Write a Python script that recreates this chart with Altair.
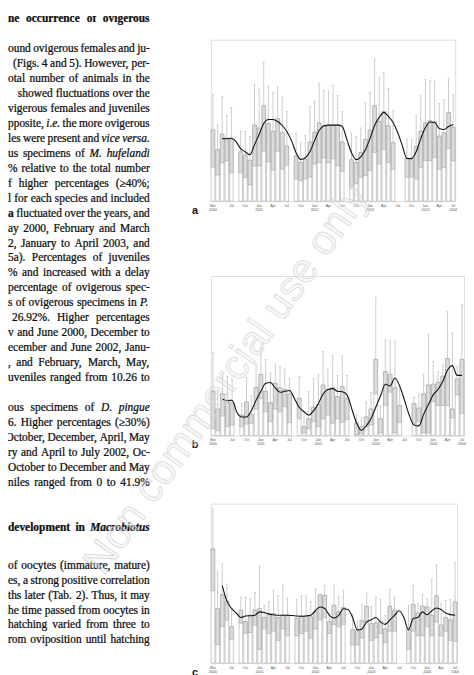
import altair as alt
import pandas as pd

# ---------------- categories ----------------
MONTH_NAMES = ["Jan", "Feb", "Mar", "Apr", "May", "Jun", "Jul", "Aug", "Sep", "Oct", "Nov", "Dec"]
MONTHS = []
for yr in range(2000, 2005):
    for mi, mn in enumerate(MONTH_NAMES):
        if (yr == 2000 and mi < 2) or (yr == 2004 and mi > 6):
            continue
        MONTHS.append(f"{mn} {yr}")
TICK_MONTHS = [MONTHS[0]] + MONTHS[4::3]

N = None
# ---------------- panel a ----------------
TOP_A = [3.53, 2.55, 3.32, 3.12, 3.09, N,
         2.44, 2.28, 2.03, 3.77, 3.62, 4.72, 3.84, 3.46, 4.08, 3.41, 2.73, N,
         2.24, 1.92, 2.08, 2.93, 3.41, 3.87, 3.74, 3.74, 3.77, 3.77, 2.93, N,
         2.05, 1.92, 2.41, 3.06, 3.51, 4.72, 3.95, 4.44, 3.74, 2.89, N, N,
         2.11, 2.11, 2.70, 3.46, 3.87, 3.98, 3.95, 3.22, 3.38, 4.39, 3.66]
LOW_A = [1.69, 1.30, 1.90, 2.00, 1.40, N,
         1.40, 1.17, 0.81, 1.74, 1.74, 2.47, 1.95, 1.54, 2.47, 1.59, 1.79, N,
         1.10, 1.02, 1.10, 1.19, 1.84, 1.92, 2.15, 1.90, 2.11, 1.76, 1.48, N,
         0.70, 0.86, 1.19, 1.27, 1.51, 2.41, 1.84, 2.57, 1.92, 1.59, N, N,
         1.19, 1.19, 1.10, 1.67, 2.00, 2.00, 2.16, 1.59, 1.67, 2.60, 2.00]
WHISK_A = [5.30, 3.77, 5.19, 4.26, 4.65, N,
           3.48, 3.45, 3.20, 5.79, 5.56, 6.89, 5.70, 5.40, 5.66, 5.17, 4.44, N,
           3.38, 2.89, 3.27, 4.68, 4.98, 5.85, 5.50, 5.46, 5.74, 5.25, 4.44, N,
           3.38, 3.22, 3.63, 4.88, 5.40, 7.04, 6.11, 6.37, 5.59, 4.50, N, N,
           3.06, 3.06, 4.23, 5.22, 6.03, 5.98, 5.95, 4.85, 5.04, 6.07, 5.27]
MA_A = [N, N, 3.10, 3.09, 3.12, 2.95,
        2.60, 2.45, 2.30, 2.80, 3.30, 3.85, 4.05, 4.05, 3.95, 3.75, 3.45, 3.00,
        2.40, 2.07, 2.15, 2.45, 3.00, 3.50, 3.72, 3.77, 3.77, 3.77, 3.70, 3.05,
        2.40, 2.06, 2.20, 2.55, 3.10, 3.75, 4.15, 4.40, 4.20, 3.90, 3.40, 2.75,
        2.12, 2.11, 2.45, 3.10, 3.65, 3.92, 3.90, 3.60, 3.55, 3.70, 3.80]

# ---------------- panel b ----------------
TOP_B = [4.96, 3.00, 4.70, 3.80, 3.70, N,
         2.30, 3.80, 2.40, 5.40, 6.90, 5.00, 3.70, 5.90, 5.40, 5.20, 4.70, N,
         4.20, 1.00, 1.90, 3.20, 3.50, 5.70, 5.20, 5.40, 4.40, 5.50, 4.20, N,
         1.40, 1.00, 2.10, 3.00, 8.60, 1.90, 7.20, 6.90, 5.40, 3.40, N, N,
         3.60, 3.10, 4.70, 5.70, 5.80, 6.00, 6.70, 8.70, 3.00, 6.40, 8.60]
LOW_B = [0.80, 0.60, 2.20, 1.00, 1.20, N,
         1.00, 1.30, 1.40, 3.00, 4.20, 2.70, 1.60, 3.00, 2.70, 3.30, 1.50, N,
         1.90, 0.30, 0.80, 1.60, 1.00, 1.90, 2.30, 1.40, 1.90, 1.50, 1.80, N,
         0.10, 0.20, 1.00, 1.20, 4.70, 0.30, 3.40, 4.90, 0.30, 1.50, N, N,
         1.40, 1.60, 0.30, 0.30, 3.80, 3.40, 3.40, 3.40, 2.00, 4.60, 2.50]
WHISK_B = [9.40, 5.10, 6.90, 6.70, 6.40, N,
           3.60, 6.55, 4.50, 8.10, 9.90, 8.60, 7.10, 8.10, 7.80, 7.50, 6.40, N,
           6.70, 2.60, 5.00, 6.40, 6.90, 9.50, 7.50, 9.00, 6.80, 9.00, 6.80, N,
           2.40, 2.00, 3.80, 4.90, 15.60, 3.40, 10.80, 10.70, 10.70, 5.40, N, N,
           4.30, 4.70, 6.90, 11.40, 8.40, 7.20, 8.00, 14.00, 11.60, 7.80, 14.80]
MA_B = [N, N, 4.10, 3.95, 4.00, 2.60,
        2.10, 2.10, 2.80, 4.00, 5.00, 5.90, 6.00, 5.40, 4.90, 5.00, 5.10, 4.20,
        3.20, 2.70, 2.30, 2.80, 3.60, 4.70, 5.20, 5.30, 5.00, 4.95, 4.60, 3.00,
        1.40, 0.60, 1.10, 1.90, 3.20, 4.50, 5.80, 5.60, 6.50, 5.60, 4.00, 2.30,
        1.20, 1.10, 2.40, 3.50, 4.60, 5.20, 6.10, 7.40, 7.90, 6.80, 6.80]

# ---------------- panel c ----------------
TOP_C = [5.00, 2.39, 3.00, 2.72, 1.60, N,
         2.32, 1.82, 2.10, 2.32, 2.39, 2.00, 2.18, 2.18, 2.00, 2.10, 2.10, N,
         1.96, 2.07, 2.07, 2.03, 2.25, 3.00, 2.97, 1.82, 2.54, 2.25, 2.44, N,
         1.46, 1.42, 1.86, 2.49, 1.73, 1.76, 1.82, 1.50, 2.49, 2.32, N, N,
         1.50, 2.57, 2.20, 2.50, 2.46, 2.10, 2.95, 1.67, 2.00, 1.90, 2.68]
LOW_C = [3.18, 0.81, 1.60, 1.89, 1.03, N,
         1.75, 1.31, 1.34, 1.67, 0.60, 1.50, 1.30, 1.40, 1.00, 1.50, 1.20, N,
         1.20, 1.30, 1.40, 1.10, 1.50, 1.90, 2.00, 1.30, 1.70, 1.60, 1.70, N,
         0.80, 0.80, 1.10, 1.80, 1.00, 1.10, 1.30, 0.90, 1.40, 1.40, N, N,
         0.60, 1.40, 1.20, 1.20, 1.60, 1.20, 1.80, 1.20, 1.40, 1.00, 0.96]
WHISK_C = [6.77, 4.00, 4.36, 3.47, 2.39, N,
           2.90, 2.90, 2.82, 3.11, 4.26, 2.54, 2.70, 3.20, 2.97, 3.43, 2.85, N,
           2.80, 2.97, 2.95, 2.70, 3.25, 3.00, 3.40, 2.20, 3.43, 2.94, 3.18, N,
           2.14, 1.85, 2.56, 3.08, 2.50, 2.90, 2.80, 2.10, 3.22, 2.90, N, N,
           2.54, 3.40, 2.60, 3.00, 2.82, 3.69, 4.33, 2.60, 2.75, 2.80, 4.40]
MA_C = [N, N, 3.40, 2.72, 2.40, 2.20,
        2.00, 2.07, 2.08, 2.10, 2.25, 2.22, 2.15, 2.12, 2.10, 2.10, 2.10, 2.09,
        2.07, 2.06, 2.07, 2.10, 2.30, 2.46, 2.40, 2.10, 1.98, 2.10, 2.39, 2.35,
        2.00, 1.46, 1.50, 1.80, 1.90, 2.00, 1.80, 1.70, 1.90, 2.10, 2.30, 2.00,
        1.46, 1.96, 2.00, 2.25, 2.12, 2.30, 2.42, 2.35, 2.20, 2.13, 2.10]

Y_TITLE = "Mean number of oocytes"
WATERMARK = "Non commercial use only"

# ---------------- text column (line index, segments) ----------------
TEXT_LINES = [
    (0, [("he occurrence of ovigerous", "b")]),
    (2, [("ound ovigerous females and ju-", "r")]),
    (3, [("(Figs. 4 and 5). However, per-", "r")]),
    (4, [("otal number of animals in the", "r")]),
    (5, [("showed fluctuations over the", "r")]),
    (6, [("vigerous females and juveniles", "r")]),
    (7, [("pposite,", "r"), ("i.e.", "i"), ("the more ovigerous", "r")]),
    (8, [("les were present and", "r"), ("vice versa.", "i")]),
    (9, [("us specimens of", "r"), ("M. hufelandi", "i")]),
    (10, [("% relative to the total number", "r")]),
    (11, [("f higher percentages (\u226540%;", "r")]),
    (12, [("l for each species and included", "r")]),
    (13, [("a", "b"), ("fluctuated over the years, and", "r")]),
    (14, [("ay 2000, February and March", "r")]),
    (15, [("2, January to April 2003, and", "r")]),
    (16, [("5a). Percentages of juveniles", "r")]),
    (17, [("% and increased with a delay", "r")]),
    (18, [("percentage of ovigerous spec-", "r")]),
    (19, [("s of ovigerous specimens in", "r"), ("P.", "i")]),
    (20, [("26.92%. Higher percentages", "r")]),
    (21, [("v and June 2000, December to", "r")]),
    (22, [("ecember and June 2002, Janu-", "r")]),
    (23, [(", and February, March, May,", "r")]),
    (24, [("uveniles ranged from 10.26 to", "r")]),
    (26, [("ous specimens of", "r"), ("D. pingue", "i")]),
    (27, [("6. Higher percentages (\u226530%)", "r")]),
    (28, [("October, December, April, May", "r")]),
    (29, [("ry and April to July 2002, Oc-", "r")]),
    (30, [("October to December and May", "r")]),
    (31, [("niles ranged from 0 to 41.9%", "r")]),
    (34, [("development in", "b"), ("Macrobiotus", "bi")]),
    (36, [("of oocytes (immature, mature)", "r")]),
    (37, [("es, a strong positive correlation", "r")]),
    (38, [("ths later (Tab. 2). Thus, it may", "r")]),
    (39, [("he time passed from oocytes in", "r")]),
    (40, [("hatching varied from three to", "r")]),
    (41, [("rom oviposition until hatching", "r")]),
]
# lines whose first visible word starts inside the column (page x)
LINE_START = {3: 13, 5: 18, 16: 3, 18: 3, 20: 12, 23: 6, 30: 3}

# approximate Times metrics (per 1000 em), used to justify lines word by word
R_W = dict(zip(" !%(),-.:;", [250, 333, 833, 333, 333, 250, 333, 250, 278, 278]))
R_W.update({c: 500 for c in "0123456789"})
R_W.update(dict(zip("abcdefghijklmnopqrstuvwxyz",
                    [444, 500, 444, 500, 444, 333, 500, 500, 278, 278, 500, 278, 778,
                     500, 500, 500, 500, 333, 389, 278, 500, 500, 722, 500, 500, 444])))
R_W.update(dict(zip("ADFHJMOPT", [722, 722, 556, 722, 389, 889, 722, 556, 611])))
R_W["\u2265"] = 549
I_W = dict(R_W)
I_W.update(dict(zip("abcdefghilmnoprstuvMPD", [500, 500, 444, 500, 444, 278, 500, 500, 278, 278,
                                               722, 500, 500, 500, 389, 389, 278, 500, 444, 833, 611, 722])))
B_W = dict(R_W)
B_W.update(dict(zip("abcdefhmnoprstuv", [500, 556, 444, 556, 444, 333, 556, 833, 556, 500, 556, 444, 389, 333, 556, 500])))
B_W.update({"g": 500, "i": 278, "l": 278})
BI_W = dict(B_W)
BI_W.update(dict(zip("Macrobitus", [889, 500, 444, 389, 500, 500, 278, 278, 556, 389])))
TABLES = {"r": R_W, "i": I_W, "b": B_W, "bi": BI_W}

FS = 11.6
TEXT_W = 144
TEXT_H = 660
PAGE_OFF = 8


def w_of(s, style):
    tab = TABLES[style]
    return sum(tab.get(ch, 500) for ch in s) / 1000.0 * FS


rows = []
for k, segs in TEXT_LINES:
    yc = (11 + 15.2 * k if k <= 34 else 566 + 15.2 * (k - 36)) - PAGE_OFF
    words = [(wd, st) for txt, st in segs for wd in txt.split(" ")]
    widths = [w_of(wd, st) for wd, st in words]
    left = max(LINE_START.get(k, 0) - PAGE_OFF, 0)
    total = sum(widths)
    n = len(words)
    gap = (TEXT_W - left - total) / (n - 1) if n > 1 else 0
    min_gap = 0.2 * FS
    if gap < min_gap:
        gap = min_gap
        left = TEXT_W - total - gap * (n - 1)
    xpos = left
    for (wd, st), ww in zip(words, widths):
        rows.append({"t": wd, "x": xpos, "y": yc, "s": st})
        xpos += ww + gap
text_df = pd.DataFrame(rows)


def text_layer(style, **kw):
    return alt.Chart(text_df).transform_filter(alt.datum.s == style).mark_text(
        align="left", baseline="middle", font="Liberation Serif", fontSize=FS,
        color="#0d0d0d", stroke="#0d0d0d", strokeWidth=0.25, clip=True, **kw
    ).encode(
        x=alt.X("x:Q", scale=alt.Scale(domain=[0, TEXT_W], nice=False, zero=False), axis=None),
        y=alt.Y("y:Q", scale=alt.Scale(domain=[0, TEXT_H], nice=False, reverse=True), axis=None),
        text="t:N",
    )


text_chart = alt.layer(
    text_layer("r"),
    text_layer("i", fontStyle="italic"),
    text_layer("b", fontWeight="bold"),
    text_layer("bi", fontStyle="italic", fontWeight="bold"),
).properties(width=TEXT_W, height=TEXT_H, view=alt.ViewBackground(strokeOpacity=0))

LABEL_EXPR = ("(slice(datum.label,0,3)=='Jan' || datum.label=='Mar 2000' || datum.label=='Jul 2004')"
              " ? split(datum.label,' ') : slice(datum.label,0,3)")

GRAY = "#999999"


def panel(top, low, whisk, ma, ymax, ystep, width, height, letter, watermark=False):
    df = pd.DataFrame({"month": MONTHS, "top": top, "low": low, "whisk": whisk, "ma": ma})
    x = alt.X("month:N", sort=MONTHS,
              scale=alt.Scale(paddingInner=0.22, paddingOuter=0.05),
              axis=alt.Axis(values=TICK_MONTHS, labelExpr=LABEL_EXPR, labelAngle=0,
                            labelFontSize=3.6, labelLineHeight=4.2, labelColor="#555",
                            ticks=False, domain=False, title=None, labelPadding=2,
                            labelFont="Liberation Sans"))
    ysc = alt.Scale(domain=[0, ymax], nice=False)
    yax = alt.Axis(values=list(range(0, ymax + 1, ystep)), title=Y_TITLE,
                   titleFontSize=4.4, titleFontWeight="normal", titleColor="#444",
                   titleFont="Liberation Sans", labelFont="Liberation Sans",
                   labelFontSize=3.8, labelColor="#555", ticks=False, domain=False,
                   gridColor="#d8d8d8", gridWidth=0.6, labelPadding=3, titlePadding=6)
    base = alt.Chart(df).encode(x=x)
    outline = base.mark_bar(fill="white", stroke=GRAY, strokeWidth=0.5).encode(
        y=alt.Y("top:Q", scale=ysc, axis=yax))
    box = base.mark_bar(fill="#dcdcdc", stroke=GRAY, strokeWidth=0.5).encode(
        y=alt.Y("low:Q", axis=None), y2="top:Q")
    whisker = base.mark_rule(color=GRAY, strokeWidth=0.5).encode(
        y=alt.Y("top:Q", axis=None), y2="whisk:Q")
    cap = base.mark_tick(color=GRAY, thickness=0.5, size=2.2).encode(
        y=alt.Y("whisk:Q", axis=None))
    line = base.mark_line(color="#111111", strokeWidth=1.1, interpolate="monotone").encode(
        y=alt.Y("ma:Q", axis=None))
    lab = alt.Chart(pd.DataFrame({"l": [letter]})).mark_text(
        fontWeight="bold", fontSize=11, font="Liberation Sans", color="#111",
        align="center", baseline="middle"
    ).encode(x=alt.value(-16), y=alt.value(height + 10), text="l:N")
    layers = [outline, box, whisker, cap, line, lab]
    if watermark:
        wm = alt.Chart(pd.DataFrame({"w": [WATERMARK]})).mark_text(
            fontSize=42, font="Liberation Sans", angle=305, align="center", baseline="middle",
            fill="#e4e4e4", fillOpacity=0.3, stroke="#d2d2d2", strokeWidth=0.6
        ).encode(x=alt.value(16), y=alt.value(-126), text="w:N")
        layers.append(wm)
    return alt.layer(*layers).properties(width=width, height=height)


def spacer(h):
    return alt.Chart(pd.DataFrame({"v": [0]})).mark_point(opacity=0).encode(
        x=alt.value(0), y=alt.value(0)
    ).properties(width=10, height=h, view=alt.ViewBackground(strokeOpacity=0))


pa = panel(TOP_A, LOW_A, WHISK_A, MA_A, 8, 1, 248, 164, "a")
pb = panel(TOP_B, LOW_B, WHISK_B, MA_B, 18, 2, 257, 162, "b")
pc = panel(TOP_C, LOW_C, WHISK_C, MA_C, 7, 1, 250, 162, "c", watermark=True)

right_col = alt.vconcat(spacer(24), pa, spacer(76), pb, spacer(69), pc, spacing=0, bounds="flush")

chart = alt.hconcat(text_chart, right_col, spacing=62, bounds="flush").properties(
    padding=0
).configure_view(stroke="#c8c8c8", strokeWidth=0.6).configure(background="white")

chart.save("out.html", embed_options={"renderer": "svg", "actions": False})
